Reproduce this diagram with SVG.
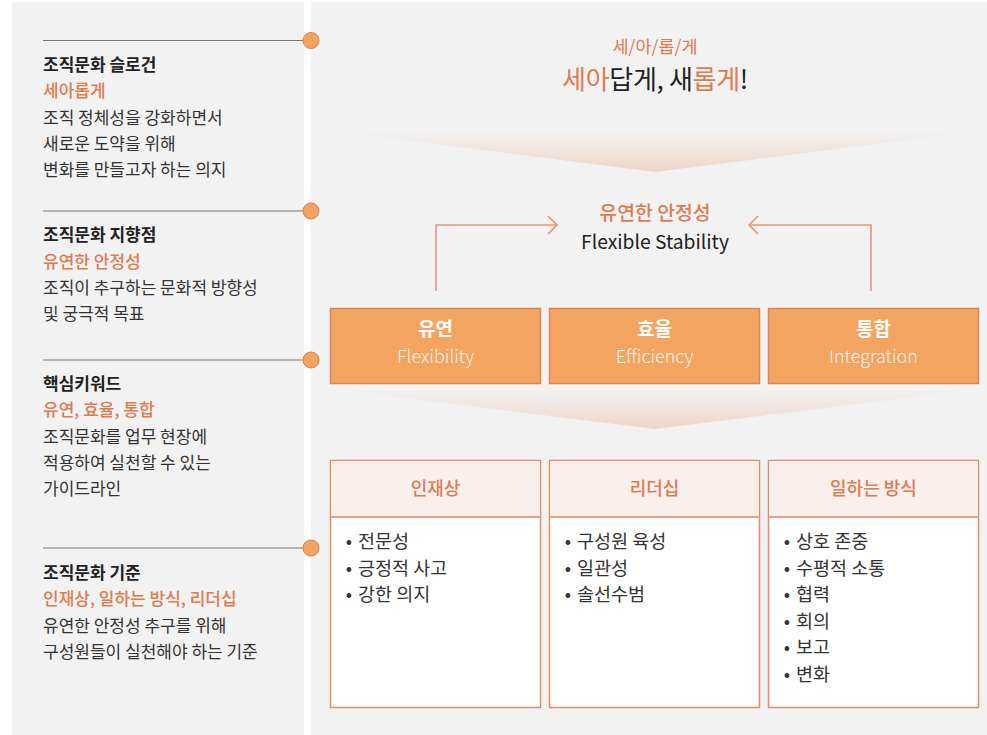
<svg xmlns="http://www.w3.org/2000/svg" width="987" height="735" viewBox="0 0 987 735">
<defs>
<linearGradient id="fun" x1="0" y1="0" x2="0" y2="1">
<stop offset="0" stop-color="#eed6ca" stop-opacity="0"/>
<stop offset="1" stop-color="#eed5c9" stop-opacity="1"/>
</linearGradient>
<marker id="chev" viewBox="0 0 12 20" refX="10" refY="10" markerWidth="12" markerHeight="20" markerUnits="userSpaceOnUse" orient="auto">
<path d="M1,1 L10,10 L1,19" fill="none" stroke="#e8957a" stroke-width="1.6"/>
</marker>
</defs>
<style>
text{font-family:"Noto Sans CJK KR","Noto Sans",sans-serif;}
.t{font-size:17px;font-weight:700;fill:#222;}
.o{font-size:17px;font-weight:500;fill:#e07b4e;}
.b{font-size:17px;fill:#333;}
.ln{stroke:#777;stroke-width:1;}
.dot{fill:#f4a261;stroke:#df7f4c;stroke-width:1;}
.kbox{fill:#f4a461;stroke:#db8658;stroke-width:1.5;}
.kt{font-size:19px;font-weight:700;fill:#fff;text-anchor:middle;}
.ke{font-size:18px;font-weight:300;fill:#fff;fill-opacity:0.92;text-anchor:middle;}
.sbox{fill:#fff;stroke:#e58a62;stroke-width:1.5;}
.shead{fill:#f9efec;}
.sdiv{stroke:#e8a283;stroke-width:2;}
.sh{font-size:18px;font-weight:500;fill:#e07b4e;text-anchor:middle;}
.li{font-size:18.5px;fill:#333;}
.con{fill:none;stroke:#e8957a;stroke-width:1.6;}
</style>
<rect width="987" height="735" fill="#fff"/>
<rect x="12" y="2" width="292" height="733" fill="#f2f2f2"/>
<rect x="311" y="2" width="676" height="733" fill="#f2f2f2"/>

<g id="left-slogan">
<line class="ln" x1="43" y1="40.5" x2="304" y2="40.5"/>
<circle class="dot" cx="311" cy="40.5" r="8"/>
<text class="t" x="43" y="71">조직문화 슬로건</text>
<text class="o" x="43" y="97">세아롭게</text>
<text class="b" x="43" y="124">조직 정체성을 강화하면서</text>
<text class="b" x="43" y="150">새로운 도약을 위해</text>
<text class="b" x="43" y="176">변화를 만들고자 하는 의지</text>
</g>
<g id="left-direction">
<line class="ln" x1="43" y1="211" x2="304" y2="211"/>
<circle class="dot" cx="311" cy="211" r="8"/>
<text class="t" x="43" y="241">조직문화 지향점</text>
<text class="o" x="43" y="268">유연한 안정성</text>
<text class="b" x="43" y="294">조직이 추구하는 문화적 방향성</text>
<text class="b" x="43" y="320">및 궁극적 목표</text>
</g>
<g id="left-keywords">
<line class="ln" x1="43" y1="360" x2="304" y2="360"/>
<circle class="dot" cx="311" cy="360" r="8"/>
<text class="t" x="43" y="390">핵심키워드</text>
<text class="o" x="43" y="416">유연, 효율, 통합</text>
<text class="b" x="43" y="443">조직문화를 업무 현장에</text>
<text class="b" x="43" y="469">적용하여 실천할 수 있는</text>
<text class="b" x="43" y="495">가이드라인</text>
</g>
<g id="left-standard">
<line class="ln" x1="43" y1="548" x2="304" y2="548"/>
<circle class="dot" cx="311" cy="548" r="8"/>
<text class="t" x="43" y="579">조직문화 기준</text>
<text class="o" x="43" y="605">인재상, 일하는 방식, 리더십</text>
<text class="b" x="43" y="632">유연한 안정성 추구를 위해</text>
<text class="b" x="43" y="658">구성원들이 실천해야 하는 기준</text>
</g>

<g id="slogan">
<text x="655" y="53" text-anchor="middle" font-size="17.5" fill="#e07b4e">세/아/롭/게</text>
<text x="655" y="89" text-anchor="middle" font-size="26" fill="#222" letter-spacing="-0.3"><tspan fill="#e07b4e">세아</tspan>답게, 새<tspan fill="#e07b4e">롭게</tspan>!</text>
</g>
<polygon id="funnel-1" points="340,132 970,132 655,172" fill="url(#fun)"/>

<g id="goal">
<text x="655" y="220" text-anchor="middle" font-size="19.4" font-weight="500" fill="#e07b4e">유연한 안정성</text>
<text x="655" y="249" text-anchor="middle" font-size="19.3" fill="#222">Flexible Stability</text>
</g>

<g id="connectors">
<polyline class="con" points="436,291 436,225 557,225" marker-end="url(#chev)"/>
<polyline class="con" points="871,291 871,225 749,225" marker-end="url(#chev)"/>
</g>

<g id="kw-flex">
<rect class="kbox" x="330.5" y="308.5" width="210" height="75"/>
<text class="kt" x="435.5" y="336">유연</text>
<text class="ke" x="435.5" y="363">Flexibility</text>
</g>
<g id="kw-eff">
<rect class="kbox" x="549.5" y="308.5" width="210" height="75"/>
<text class="kt" x="654.5" y="336">효율</text>
<text class="ke" x="654.5" y="363">Efficiency</text>
</g>
<g id="kw-int">
<rect class="kbox" x="768.5" y="308.5" width="210" height="75"/>
<text class="kt" x="873.5" y="336">통합</text>
<text class="ke" x="873.5" y="363">Integration</text>
</g>

<polygon id="funnel-2" points="340,390 970,390 655,429" fill="url(#fun)"/>

<g id="std-talent">
<rect class="sbox" x="330.5" y="460.5" width="210" height="247"/>
<rect class="shead" x="331.25" y="461.25" width="208.5" height="55"/>
<line class="sdiv" x1="330.5" y1="517" x2="540.5" y2="517"/>
<text class="sh" x="435.5" y="495">인재상</text>
<text class="li" y="548"><tspan x="349" text-anchor="middle">•</tspan><tspan x="358">전문성</tspan></text>
<text class="li" y="575"><tspan x="349" text-anchor="middle">•</tspan><tspan x="358">긍정적 사고</tspan></text>
<text class="li" y="601"><tspan x="349" text-anchor="middle">•</tspan><tspan x="358">강한 의지</tspan></text>
</g>
<g id="std-leader">
<rect class="sbox" x="549.5" y="460.5" width="210" height="247"/>
<rect class="shead" x="550.25" y="461.25" width="208.5" height="55"/>
<line class="sdiv" x1="549.5" y1="517" x2="759.5" y2="517"/>
<text class="sh" x="654.5" y="495">리더십</text>
<text class="li" y="548"><tspan x="568" text-anchor="middle">•</tspan><tspan x="577">구성원 육성</tspan></text>
<text class="li" y="575"><tspan x="568" text-anchor="middle">•</tspan><tspan x="577">일관성</tspan></text>
<text class="li" y="601"><tspan x="568" text-anchor="middle">•</tspan><tspan x="577">솔선수범</tspan></text>
</g>
<g id="std-work">
<rect class="sbox" x="768.5" y="460.5" width="210" height="247"/>
<rect class="shead" x="769.25" y="461.25" width="208.5" height="55"/>
<line class="sdiv" x1="768.5" y1="517" x2="978.5" y2="517"/>
<text class="sh" x="873.5" y="495">일하는 방식</text>
<text class="li" y="548"><tspan x="787" text-anchor="middle">•</tspan><tspan x="796">상호 존중</tspan></text>
<text class="li" y="575"><tspan x="787" text-anchor="middle">•</tspan><tspan x="796">수평적 소통</tspan></text>
<text class="li" y="601"><tspan x="787" text-anchor="middle">•</tspan><tspan x="796">협력</tspan></text>
<text class="li" y="628"><tspan x="787" text-anchor="middle">•</tspan><tspan x="796">회의</tspan></text>
<text class="li" y="654"><tspan x="787" text-anchor="middle">•</tspan><tspan x="796">보고</tspan></text>
<text class="li" y="681"><tspan x="787" text-anchor="middle">•</tspan><tspan x="796">변화</tspan></text>
</g>
</svg>
